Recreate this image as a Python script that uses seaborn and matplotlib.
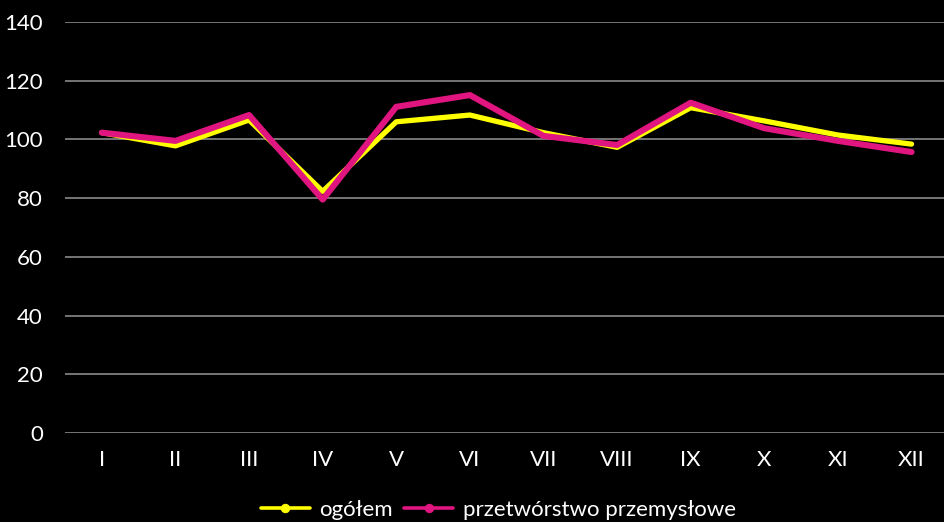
import numpy as np
import pandas as pd
import seaborn as sns
import matplotlib.pyplot as plt

months = ["I", "II", "III", "IV", "V", "VI", "VII", "VIII", "IX", "X", "XI", "XII"]
ogolem = [102.3, 97.8, 106.6, 82.3, 106.0, 108.3, 102.3, 97.3, 110.8, 106.3, 101.5, 98.4]
przetworstwo = [102.3, 99.5, 108.3, 79.5, 111.1, 115.1, 101.2, 98.1, 112.5, 103.8, 99.5, 95.7]
series_names = ["ogółem", "przetwórstwo przemysłowe"]
colors = {"ogółem": "#FFFF00", "przetwórstwo przemysłowe": "#E0157F"}

df = pd.DataFrame({
    "month": months * 2,
    "pos": list(range(len(months))) * 2,
    "value": ogolem + przetworstwo,
    "series": [series_names[0]] * 12 + [series_names[1]] * 12,
})

sns.set_theme(style="dark")
plt.rcParams["font.family"] = ["Lato", "DejaVu Sans"]

fig = plt.figure(figsize=(9.44, 5.22), dpi=100, facecolor="black")
ax = fig.add_axes([0.0689, 0.1705, 0.9357, 0.7874])
ax.set_facecolor("black")

sns.lineplot(
    data=df,
    x="pos",
    y="value",
    hue="series",
    palette=colors,
    size="series",
    sizes={"ogółem": 3.8, "przetwórstwo przemysłowe": 4.4},
    ax=ax,
    legend=True,
)

ax.set_xlim(-0.5, 11.5)
ax.set_ylim(0, 140)
ax.set_yticks(np.arange(0, 141, 20))
ax.set_xticks(range(len(months)))
ax.set_xticklabels(months)
ax.set_xlabel("")
ax.set_ylabel("")
ax.grid(axis="y", color="#8a8a8a", linewidth=1.2)
ax.grid(axis="x", visible=False)
for s in ax.spines.values():
    s.set_visible(False)
ax.tick_params(axis="y", length=0, pad=16, labelsize=16, labelcolor="white")
ax.tick_params(axis="x", length=0, pad=12, labelsize=16, labelcolor="white")

handles, labels = ax.get_legend_handles_labels()
ax.get_legend().remove()
leg = fig.legend(
    handles, labels,
    loc="center", bbox_to_anchor=(0.528, 0.023),
    ncol=2, frameon=False, fontsize=16, labelcolor="white",
    handlelength=2.2, columnspacing=0.5, handletextpad=0.45,
)
for line in leg.get_lines():
    c = line.get_color()
    line.set_marker("o")
    line.set_markersize(6)
    line.set_markerfacecolor(c)
    line.set_markeredgecolor(c)
    line.set_linewidth(2.6)

fig.savefig("out.png", dpi=100, facecolor="black")
